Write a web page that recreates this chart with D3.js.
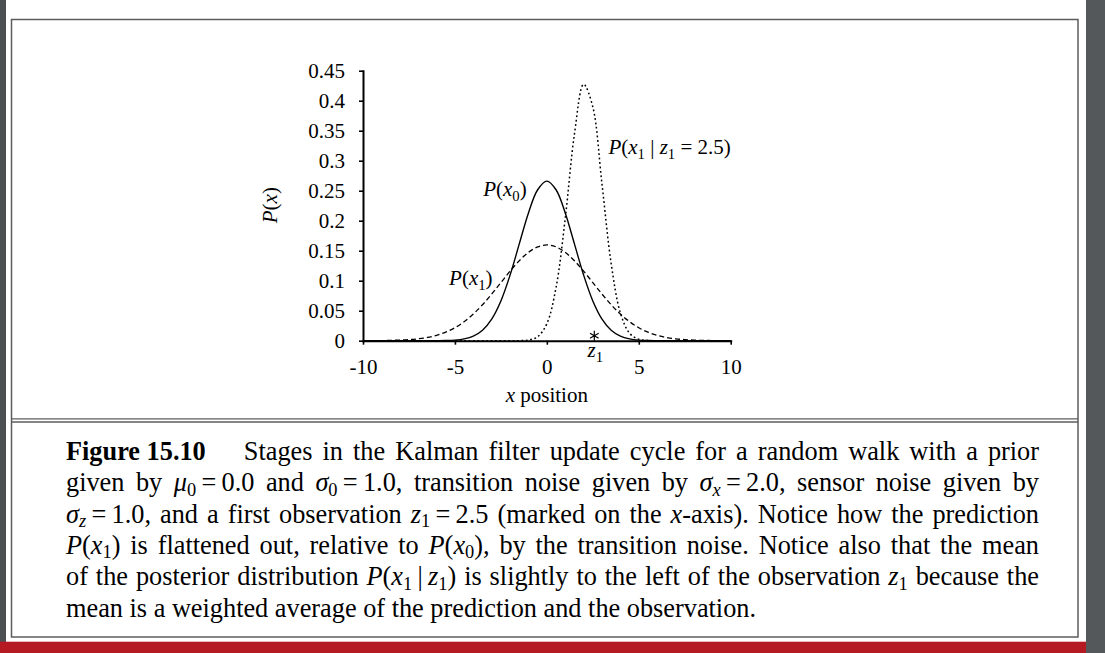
<!DOCTYPE html>
<html>
<head>
<meta charset="utf-8">
<script src="https://cdn.jsdelivr.net/npm/d3@7"></script>
<style>
body { margin: 0; background: #fff; }
svg { display: block; }
</style>
</head>
<body>
<div id="figure"></div>
<script>
// sample positions along the x axis
var xPositions = [-10, -9.5, -9, -8.5, -8, -7.5, -7, -6.5, -6, -5.5, -5, -4.5, -4, -3.5, -3, -2.5, -2, -1.5, -1, -0.5,
    0, 0.5, 1, 1.5, 2, 2.5, 3, 3.5, 4, 4.5, 5, 5.5, 6, 6.5, 7, 7.5, 8, 8.5, 9, 9.5, 10];

// P(x0), solid
var priorValues = [0, 0, 0, 0, 0, 0, 0, 0, 0.0001, 0.0003, 0.0010, 0.0030, 0.0076, 0.0175, 0.0360, 0.0663, 0.1094, 0.1613, 0.2130, 0.2516,
    0.2660, 0.2516, 0.2130, 0.1613, 0.1094, 0.0663, 0.0360, 0.0175, 0.0076, 0.0030, 0.0010, 0.0003, 0.0001, 0, 0, 0, 0, 0, 0, 0, 0];

// P(x1), dashed
var predictionValues = [0.0001, 0.0001, 0.0002, 0.0005, 0.0010, 0.0018, 0.0032, 0.0054, 0.0090, 0.0142, 0.0216, 0.0316, 0.0444, 0.0599, 0.0777, 0.0968, 0.1159, 0.1333, 0.1473, 0.1564,
    0.1596, 0.1564, 0.1473, 0.1333, 0.1159, 0.0968, 0.0777, 0.0599, 0.0444, 0.0316, 0.0216, 0.0142, 0.0090, 0.0054, 0.0032, 0.0018, 0.0010, 0.0005, 0.0002, 0.0001, 0.0001];

// P(x1 | z1 = 2.5), dotted
var posteriorValues = [0, 0, 0, 0, 0, 0, 0, 0, 0, 0, 0, 0, 0, 0, 0, 0, 0, 0.0001, 0.0011, 0.0066,
    0.0283, 0.0886, 0.2037, 0.3443, 0.4273, 0.3896, 0.2608, 0.1282, 0.0463, 0.0123, 0.0024, 0.0003, 0, 0, 0, 0, 0, 0, 0, 0, 0];

var observation = 2.5;

var xTicks = [-10, -5, 0, 5, 10];
var yTicks = [0, 0.05, 0.1, 0.15, 0.2, 0.25, 0.3, 0.35, 0.4, 0.45];
var yTickLabels = ["0", "0.05", "0.1", "0.15", "0.2", "0.25", "0.3", "0.35", "0.4", "0.45"];

//page size
var svgWidth = 1105;
var svgHeight = 653;

//plot area inside the page
var margin = { top: 70.7, left: 363 };
var chartWidth = 367.7;
var chartHeight = 270;

var serif = "'Liberation Serif', 'Times New Roman', serif";
var chartFont = 21;
var captionFont = 26.3;

var svg = d3.select("#figure").append("svg")
    .attr("width", svgWidth)
    .attr("height", svgHeight);

//page furniture: side strips, frame, divider, red bar
svg.append("rect").attr("x", 0).attr("y", 0).attr("width", 6).attr("height", svgHeight).attr("fill", "#4b4f52");
svg.append("rect").attr("x", 1086).attr("y", 0).attr("width", 19).attr("height", svgHeight).attr("fill", "#54585b");
svg.append("rect")
    .attr("x", 11.5).attr("y", 19.5)
    .attr("width", 1066.5).attr("height", 617.5)
    .attr("fill", "#fff")
    .attr("stroke", "#5c5c5c")
    .attr("stroke-width", 1.5);
[418.8, 422].forEach(function(yy) {
    svg.append("line")
        .attr("x1", 11.5).attr("x2", 1078)
        .attr("y1", yy).attr("y2", yy)
        .attr("stroke", "#5c5c5c")
        .attr("stroke-width", 1.3);
});
svg.append("rect").attr("x", 0).attr("y", 641.7).attr("width", 1086).attr("height", 12).attr("fill", "#b51a22");

//text pieces: roman, italic, subscripts, bold
function R(t) { return { t: t }; }
function I(t) { return { t: t, it: true }; }
function S(t) { return { t: t, sub: true }; }
function SI(t) { return { t: t, sub: true, it: true }; }
function B(t) { return { t: t, bold: true }; }

function addSegments(text, segs, size, drop) {
    var shift = 0;
    segs.forEach(function(s) {
        var target = s.sub ? size * drop : 0;
        text.append("tspan")
            .attr("dy", target - shift)
            .attr("font-size", s.sub ? size * 0.7 : size)
            .attr("font-style", s.it ? "italic" : null)
            .attr("font-weight", s.bold ? "bold" : null)
            .text(s.t);
        shift = target;
    });
    return text;
}

var chartGroup = svg.append("g")
    .attr("transform", `translate(${margin.left}, ${margin.top})`);

var xLinearScale = d3.scaleLinear().domain([-10, 10]).range([0, chartWidth]);
var yLinearScale = d3.scaleLinear().domain([0, 0.45]).range([chartHeight, 0]);

var bottomAxis = d3.axisBottom(xLinearScale)
    .tickValues(xTicks)
    .tickFormat(d => String(d))
    .tickSize(4)
    .tickSizeOuter(0)
    .tickPadding(14);
var leftAxis = d3.axisLeft(yLinearScale)
    .tickValues(yTicks)
    .tickFormat((d, i) => yTickLabels[i])
    .tickSize(4)
    .tickSizeOuter(0)
    .tickPadding(14);

function styleAxis(g) {
    g.attr("font-family", serif).attr("font-size", chartFont);
    g.select(".domain").attr("stroke", "#000").attr("stroke-width", 2).attr("stroke-linecap", "square");
    g.selectAll(".tick line").attr("stroke", "#000").attr("stroke-width", 1.6);
    g.selectAll(".tick text").attr("fill", "#000");
}

//curves
var series = [
    { values: priorValues, dash: null, width: 1.4 },
    { values: predictionValues, dash: "5,3", width: 1.3 },
    { values: posteriorValues, dash: "1.8,2.6", width: 1.5 }
];

var line = d3.line()
    .x((d, i) => xLinearScale(xPositions[i]))
    .y(d => yLinearScale(d))
    .curve(d3.curveCatmullRom.alpha(0.5));

chartGroup.selectAll(".curve")
    .data(series)
    .enter()
    .append("path")
    .attr("class", "curve")
    .attr("d", d => line(d.values))
    .attr("fill", "none")
    .attr("stroke", "#000")
    .attr("stroke-width", d => d.width)
    .attr("stroke-dasharray", d => d.dash);

chartGroup.append("g")
    .attr("transform", `translate(0, ${chartHeight})`)
    .call(bottomAxis)
    .call(styleAxis);

chartGroup.append("g")
    .call(leftAxis)
    .call(styleAxis);

//curve labels, placed in data units
var curveLabels = [
    { x: -1.1, y: 0.241, anchor: "end", segs: [I("P"), R("("), I("x"), S("0"), R(")")] },
    { x: -2.95, y: 0.093, anchor: "end", segs: [I("P"), R("("), I("x"), S("1"), R(")")] },
    { x: 3.35, y: 0.311, anchor: "start", segs: [I("P"), R("("), I("x"), S("1"), R(" | "), I("z"), S("1"), R(" = 2.5)")] }
];
curveLabels.forEach(function(l) {
    var t = chartGroup.append("text")
        .attr("x", xLinearScale(l.x))
        .attr("y", yLinearScale(l.y))
        .attr("text-anchor", l.anchor)
        .attr("font-family", serif)
        .attr("font-size", chartFont);
    addSegments(t, l.segs, chartFont, 0.25);
});

//observation marker: asterisk sitting on the axis
var star = d3.symbol().type(d3.symbolAsterisk || d3.symbolCross).size(70);
chartGroup.append("path")
    .attr("d", star())
    .attr("transform", `translate(${xLinearScale(observation) + 1.5}, ${yLinearScale(0) - 5})`)
    .attr("fill", "none")
    .attr("stroke", "#000")
    .attr("stroke-width", 1.2);
addSegments(chartGroup.append("text")
    .attr("x", xLinearScale(observation) + 2.5)
    .attr("y", yLinearScale(0) + 16)
    .attr("text-anchor", "middle")
    .attr("font-family", serif)
    .attr("font-size", chartFont), [I("z"), S("1")], chartFont, 0.25);

//axis titles
addSegments(chartGroup.append("text")
    .attr("x", chartWidth / 2)
    .attr("y", chartHeight + 61)
    .attr("text-anchor", "middle")
    .attr("font-family", serif)
    .attr("font-size", chartFont), [I("x"), R(" position")], chartFont, 0.25);

addSegments(chartGroup.append("text")
    .attr("transform", `translate(-86, ${chartHeight / 2 - 0.5}) rotate(-90)`)
    .attr("text-anchor", "middle")
    .attr("font-family", serif)
    .attr("font-size", chartFont), [I("P"), R("("), I("x"), R(")")], chartFont, 0.25);

//caption, justified line by line
var th = "\u2009";
var captionLines = [
    [[B("Figure 15.10")], "Stages in the Kalman filter update cycle for a random walk with a prior"],
    ["given by", [I("\u03bc"), S("0"), R(th + "=" + th), R("0.0")], "and", [I("\u03c3"), S("0"), R(th + "=" + th), R("1.0,")],
        "transition noise given by", [I("\u03c3"), SI("x"), R(th + "=" + th), R("2.0,")], "sensor noise given by"],
    [[I("\u03c3"), SI("z"), R(th + "=" + th), R("1.0,")], "and a first observation", [I("z"), S("1"), R(th + "=" + th), R("2.5")],
        "(marked on the", [I("x"), R("-axis).")], "Notice how the prediction"],
    [[I("P"), R("("), I("x"), S("1"), R(")")], "is flattened out, relative to", [I("P"), R("("), I("x"), S("0"), R("),")],
        "by the transition noise. Notice also that the mean"],
    ["of the posterior distribution", [I("P"), R("("), I("x"), S("1"), R(th + "|" + th), I("z"), S("1"), R(")")],
        "is slightly to the left of the observation", [I("z"), S("1")], "because the"]
];
var lastLine = "mean is a weighted average of the prediction and the observation.";

var captionLeft = 66;
var captionRight = 1039;
var captionTop = 460;
var lineGap = 31.3;
var figureGap = 28;

var captionGroup = svg.append("g")
    .attr("font-family", serif)
    .attr("font-size", captionFont)
    .attr("fill", "#000");

captionLines.forEach(function(parts, li) {
    var words = [];
    parts.forEach(function(p) {
        if (typeof p === "string") p.split(" ").forEach(w => words.push([R(w)]));
        else words.push(p);
    });
    var yy = captionTop + li * lineGap;
    var nodes = words.map(function(w) {
        var t = captionGroup.append("text").attr("y", yy);
        addSegments(t, w, captionFont, 0.17);
        return t;
    });
    var widths = nodes.map(n => n.node().getComputedTextLength());
    var extra = li === 0 ? figureGap : 0;
    var gap = (captionRight - captionLeft - d3.sum(widths) - extra) / (words.length - 1);
    var xx = captionLeft;
    nodes.forEach(function(n, i) {
        n.attr("x", xx);
        n.selectAll("tspan").filter((d, j) => j === 0).attr("x", xx);
        xx += widths[i] + gap + (i === 0 ? extra : 0);
    });
});

captionGroup.append("text")
    .attr("x", captionLeft)
    .attr("y", captionTop + 5 * lineGap)
    .text(lastLine);
</script>
</body>
</html>
